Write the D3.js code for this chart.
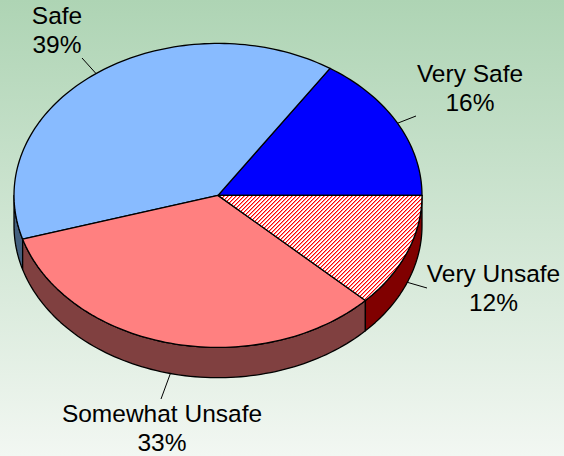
<!DOCTYPE html>
<html><head><meta charset="utf-8">
<script src="https://cdn.jsdelivr.net/npm/d3@7"></script>
<style>html,body{margin:0;padding:0;background:#fff}svg{display:block}text{font-family:"Liberation Sans",Arial,sans-serif;font-size:24.5px;fill:#000}</style>
</head><body><svg id="c" width="564" height="456"></svg>
<script>
const categories=["Very Safe","Safe","Somewhat Unsafe","Very Unsafe"];
const values=[15.75,38.9,33.2,12.15];
const percentLabels=["16%","39%","33%","12%"];
const topColors=["#0000ff","#88bbff","#ff8080","url(#hatch)"];
const sideColors=["#000080","#44607f","#804040","#800000"];
const labelPos=[[470,82],[57,24],[162,422],[493.5,282]];
const leaderEnd=[[416,116],[82,58],[161,399],[427,288]];
const W=564,H=456,cx=218,cy=195.4,rx=204,ry=152,depth=30.3;

const svg=d3.select("#c");
const defs=svg.append("defs");
const g=defs.append("linearGradient").attr("id","bg").attr("x1",0).attr("y1",0).attr("x2",0).attr("y2",1);
g.append("stop").attr("offset",0).attr("stop-color","#aed4b4");
g.append("stop").attr("offset",1).attr("stop-color","#f2f7f2");
const p=defs.append("pattern").attr("id","hatch").attr("patternUnits","userSpaceOnUse").attr("width",4).attr("height",4);
p.append("rect").attr("width",4).attr("height",4).attr("fill","#fff");
d3.range(4).forEach(k=>{
  p.append("rect").attr("x",k).attr("y",3-k).attr("width",1).attr("height",1).attr("fill","#ff0000");
  p.append("rect").attr("x",(k+1)%4).attr("y",3-k).attr("width",1).attr("height",1).attr("fill","#ff8c8c");
});

svg.append("rect").attr("width",W).attr("height",H).attr("fill","url(#bg)");

const pie=d3.pie().sort(null).startAngle(Math.PI/2).endAngle(Math.PI/2-2*Math.PI);
const arcs=pie(values);
const sx=d3.scaleLinear().domain([-1,1]).range([cx-rx,cx+rx]);
const sy=d3.scaleLinear().domain([-1,1]).range([cy+ry,cy-ry]);
const px=a=>sx(Math.sin(a)),py=a=>sy(Math.cos(a));

const frontStart=-Math.PI/2,frontEnd=-3*Math.PI/2;
const edge=(a0,a1)=>{
  const n=Math.max(2,Math.ceil(Math.abs(a1-a0)*40));
  const as=d3.range(n+1).map(i=>a0+(a1-a0)*i/n);
  const upper=as.map(a=>[px(a),py(a)]);
  const lower=as.slice().reverse().map(a=>[px(a),py(a)+depth]);
  return d3.line()(upper.concat(lower))+"Z";
};
arcs.forEach((d,i)=>{
  const a0=Math.min(d.startAngle,frontStart),a1=Math.max(d.endAngle,frontEnd);
  if(a0<=a1)return;
  svg.append("path").attr("d",edge(a0,a1)).attr("fill",sideColors[i]).attr("stroke","#000").attr("stroke-width",1.3).attr("stroke-linejoin","round");
});

const topGroup=svg.append("g");
arcs.forEach((d,i)=>{
  const n=Math.ceil(Math.abs(d.endAngle-d.startAngle)*40);
  const pts=[[cx,cy]].concat(d3.range(n+1).map(k=>{const a=d.startAngle+(d.endAngle-d.startAngle)*k/n;return [px(a),py(a)];}));
  topGroup.append("path").attr("d",d3.line()(pts)+"Z").attr("fill",topColors[i]).attr("stroke","#000").attr("stroke-width",1.3).attr("stroke-linejoin","round");
});

arcs.forEach((d,i)=>{
  const m=(d.startAngle+d.endAngle)/2;
  const front=Math.cos(m)<0;
  svg.append("line").attr("x1",px(m)).attr("y1",py(m)+(front?depth:0)).attr("x2",leaderEnd[i][0]).attr("y2",leaderEnd[i][1]).attr("stroke","#000").attr("stroke-width",1);
  const t=svg.append("text").attr("text-anchor","middle").attr("x",labelPos[i][0]).attr("y",labelPos[i][1]);
  t.append("tspan").attr("x",labelPos[i][0]).text(categories[i]);
  t.append("tspan").attr("x",labelPos[i][0]).attr("dy",28.8).text(percentLabels[i]);
});
</script></body></html>
